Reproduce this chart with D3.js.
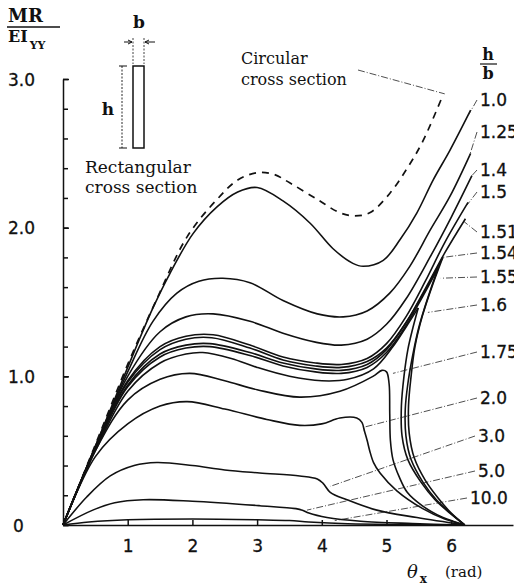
<!DOCTYPE html>
<html>
<head>
<meta charset="utf-8">
<script src="https://cdn.jsdelivr.net/npm/d3@7"></script>
<style>
  body { margin: 0; background: #fff; }
  svg { display: block; }
  .num { font-family: "DejaVu Sans", sans-serif; font-size: 17px; fill: #111; stroke: #111; stroke-width: 0.3px; }
  .ser { font-family: "DejaVu Serif", serif; fill: #111; }
</style>
</head>
<body>
<script>
'use strict';

// tick values / labels
const xTicks = [1, 2, 3, 4, 5, 6];
const yTicks = [0, 1, 2, 3];
const yTickLabels = ["0", "1.0", "2.0", "3.0"];

// h/b ratio labels, top to bottom
const ratioLabels = ["1.0", "1.25", "1.4", "1.5", "1.51", "1.54", "1.55", "1.6", "1.75", "2.0", "3.0", "5.0", "10.0"];

// curves [theta, MR/EI]
const circular = [[0,0],[0.5,0.54],[1.0,1.08],[1.45,1.52],[1.92,1.94],[2.38,2.19],[2.7,2.32],[3.0,2.37],[3.25,2.36],[3.51,2.30],[3.93,2.19],[4.28,2.10],[4.5,2.08],[4.74,2.10],[5.05,2.23],[5.32,2.40],[5.56,2.58],[5.87,2.89]];
const hb100 = [[0,0],[0.5,0.53],[1.0,1.06],[1.39,1.46],[1.65,1.69],[2.01,1.96],[2.38,2.14],[2.7,2.24],[3.0,2.27],[3.40,2.18],[3.82,2.03],[4.17,1.86],[4.48,1.76],[4.64,1.74],[4.95,1.78],[5.21,1.92],[5.47,2.10],[5.72,2.32],[5.98,2.52],[6.3,2.79]];
const hb125 = [[0,0],[0.5,0.53],[1.0,1.03],[1.39,1.37],[1.76,1.56],[2.1,1.64],[2.47,1.66],[2.89,1.63],[3.40,1.51],[3.93,1.42],[4.33,1.40],[4.70,1.44],[5.05,1.56],[5.36,1.74],[5.67,1.98],[5.98,2.21],[6.3,2.5]];
const hb140 = [[0,0],[0.5,0.52],[1.0,1.0],[1.5,1.30],[1.9,1.40],[2.32,1.42],[2.89,1.37],[3.4,1.29],[3.9,1.23],[4.3,1.21],[4.7,1.25],[5.0,1.35],[5.3,1.52],[5.67,1.80],[6.0,2.07],[6.32,2.35]];
const hb150 = [[0,0],[0.5,0.52],[1.0,0.97],[1.5,1.20],[1.9,1.27],[2.32,1.28],[2.89,1.21],[3.4,1.13],[3.9,1.09],[4.3,1.08],[4.7,1.12],[5.0,1.22],[5.3,1.40],[5.6,1.64],[5.9,1.90],[6.26,2.17]];
const hb151 = [[0,0],[0.5,0.52],[1.0,0.96],[1.5,1.18],[1.9,1.25],[2.3,1.26],[2.89,1.19],[3.4,1.11],[3.9,1.07],[4.3,1.06],[4.7,1.10],[5.0,1.19],[5.3,1.36],[5.6,1.59],[5.9,1.83],[6.22,2.06]];
const hb154 = [[0,0],[0.5,0.51],[1.0,0.94],[1.5,1.15],[1.9,1.21],[2.27,1.22],[2.89,1.16],[3.4,1.09],[3.9,1.05],[4.3,1.04],[4.7,1.08],[5.0,1.18],[5.3,1.36],[5.6,1.58],[5.87,1.80]];
const hb154back = [[5.87,1.80],[5.70,1.60],[5.55,1.40],[5.44,1.20],[5.38,1.00],[5.34,0.80],[5.35,0.62],[5.43,0.45],[5.6,0.30],[5.8,0.18],[6.0,0.08],[6.21,0]];
const hb155 = [[0,0],[0.5,0.51],[1.0,0.93],[1.5,1.13],[1.9,1.19],[2.27,1.20],[2.89,1.14],[3.4,1.07],[3.9,1.03],[4.3,1.02],[4.7,1.06],[5.0,1.16],[5.3,1.34],[5.55,1.53],[5.80,1.73]];
const hb155back = [[5.80,1.73],[5.64,1.53],[5.50,1.33],[5.40,1.13],[5.33,0.95],[5.29,0.78],[5.30,0.60],[5.38,0.44],[5.56,0.29],[5.77,0.17],[5.99,0.08],[6.21,0]];
const hb160 = [[0,0],[0.5,0.50],[1.0,0.90],[1.5,1.09],[1.9,1.15],[2.16,1.16],[2.6,1.12],[3.0,1.06],[3.5,1.00],[4.0,0.97],[4.4,0.98],[4.8,1.05],[5.1,1.20],[5.3,1.33],[5.49,1.46]];
const hb160back = [[5.49,1.46],[5.41,1.33],[5.33,1.18],[5.27,1.00],[5.23,0.80],[5.24,0.60],[5.33,0.44],[5.53,0.29],[5.75,0.17],[5.98,0.08],[6.21,0]];
const hb175 = [[0,0],[0.5,0.50],[1.0,0.84],[1.5,0.98],[1.96,1.02],[2.5,0.97],[3.0,0.91],[3.66,0.86],[4.28,0.90],[4.79,1.00],[4.93,1.04],[5.0,1.03],[5.04,0.95],[5.05,0.75],[5.06,0.57],[5.10,0.44],[5.2,0.32],[5.32,0.22],[5.55,0.13],[5.78,0.07],[6.0,0.03],[6.21,0]];
const hb200 = [[0,0],[0.5,0.46],[1.0,0.68],[1.5,0.80],[1.92,0.83],[2.5,0.78],[3.15,0.71],[3.66,0.67],[4.0,0.68],[4.28,0.72],[4.54,0.72],[4.62,0.69],[4.66,0.63],[4.70,0.57],[4.74,0.50],[4.80,0.42],[4.90,0.35],[5.16,0.23],[5.56,0.11],[5.9,0.04],[6.21,0]];
const hb300 = [[0,0],[0.37,0.19],[0.73,0.33],[1.1,0.40],[1.45,0.42],[2.0,0.40],[2.5,0.37],[3.04,0.35],[3.66,0.33],[3.93,0.31],[4.02,0.28],[4.13,0.22],[4.39,0.17],[4.85,0.10],[5.47,0.05],[6.21,0]];
const hb500 = [[0,0],[0.46,0.10],[0.8,0.15],[1.24,0.17],[2.0,0.16],[3.04,0.13],[3.6,0.11],[3.70,0.10],[3.8,0.08],[4.08,0.05],[4.6,0.025],[5.4,0.01],[6.21,0]];
const hb1000 = [[0,0],[0.4,0.02],[1.0,0.035],[2.0,0.04],[3.0,0.035],[3.5,0.03],[3.8,0.02],[4.4,0.008],[6.21,0]];

// where each label's leader line meets its curve
const leaderTargets = [[6.27,2.76],[6.28,2.48],[6.32,2.35],[6.24,2.15],[6.2,2.04],[5.87,1.80],[5.84,1.66],[5.64,1.43],[5.10,1.02],[4.67,0.66],[4.13,0.26],[3.77,0.10],[4.2,0.03]];
const circularTarget = [5.9, 2.9];

// layout of the ratio labels (pixels)
const labelX = [480, 480, 480, 480, 480, 480, 480, 480, 480, 480, 478, 478, 470];
const labelY = [100, 132, 170, 192, 232, 253, 277, 305, 352, 398, 436, 471, 498];

const width = 514, height = 587;

const svg = d3.select('body').append('svg')
  .attr('width', width)
  .attr('height', height);

svg.append('rect').attr('width', width).attr('height', height).attr('fill', '#fff');

const x = d3.scaleLinear().domain([0, 6.955]).range([63, 513]);
const y = d3.scaleLinear().domain([0, 3]).range([525, 79]);

// axes
const xAxis = d3.axisBottom(x).tickValues(xTicks).tickFormat(d3.format('d'))
  .tickSizeInner(-5).tickSizeOuter(0).tickPadding(15);
const gx = svg.append('g').attr('transform', `translate(0,${y(0)})`).call(xAxis);
gx.selectAll('text').attr('class', 'num').attr('font-size', null).attr('font-family', null);

const yMinor = d3.axisLeft(y).tickValues(d3.range(0, 3.01, 0.2)).tickFormat('')
  .tickSizeInner(-5).tickSizeOuter(0);
svg.append('g').attr('transform', `translate(${x(0)},0)`).call(yMinor)
  .call(g => g.select('.domain').remove());

const yAxis = d3.axisLeft(y).tickValues(yTicks).tickFormat((d, i) => yTickLabels[i])
  .tickSizeInner(-6).tickSizeOuter(0);
const gy = svg.append('g').attr('transform', `translate(${x(0)},0)`).call(yAxis);
gy.selectAll('text').attr('class', 'num').attr('font-size', null).attr('font-family', null)
  .attr('text-anchor', 'start')
  .attr('x', d => d === 0 ? -50 : -55)
  .attr('dy', '0.36em');

svg.selectAll('.domain, .tick line').attr('stroke', '#111').attr('stroke-width', 1.5);

// curves
const line = d3.line().x(d => x(d[0])).y(d => y(d[1])).curve(d3.curveCatmullRom.alpha(0.5));

const solids = [hb100, hb125, hb140, hb150, hb151, hb154, hb154back, hb155, hb155back,
  hb160, hb160back, hb175, hb200, hb300, hb500, hb1000];

svg.append('g').selectAll('path').data(solids).enter().append('path')
  .attr('d', line)
  .attr('fill', 'none')
  .attr('stroke', '#111')
  .attr('stroke-width', 1.6)
  .attr('stroke-linejoin', 'round');

svg.append('path')
  .datum(circular)
  .attr('d', line)
  .attr('fill', 'none')
  .attr('stroke', '#111')
  .attr('stroke-width', 1.7)
  .attr('stroke-dasharray', '7,6');

// ratio labels with leader lines
const leaders = svg.append('g');
ratioLabels.forEach((lab, i) => {
  const t = leaderTargets[i];
  leaders.append('line')
    .attr('x1', labelX[i] - 3).attr('y1', labelY[i])
    .attr('x2', x(t[0])).attr('y2', y(t[1]))
    .attr('stroke', '#222').attr('stroke-width', 0.8)
    .attr('stroke-dasharray', '7,2,1,2');
  svg.append('text').attr('class', 'num')
    .attr('x', labelX[i]).attr('y', labelY[i]).attr('dy', '0.36em')
    .text(lab);
});

// h/b header
svg.append('text').attr('class', 'ser').attr('x', 488).attr('y', 60)
  .attr('text-anchor', 'middle').attr('font-size', 16).attr('font-weight', 'bold').text('h');
svg.append('line').attr('x1', 480).attr('x2', 497).attr('y1', 64).attr('y2', 64)
  .attr('stroke', '#111').attr('stroke-width', 1.2);
svg.append('text').attr('class', 'ser').attr('x', 488).attr('y', 79)
  .attr('text-anchor', 'middle').attr('font-size', 16).attr('font-weight', 'bold').text('b');

// circular cross section annotation
svg.append('text').attr('class', 'ser').attr('x', 241).attr('y', 64).attr('font-size', 16).text('Circular');
svg.append('text').attr('class', 'ser').attr('x', 241).attr('y', 85).attr('font-size', 16).text('cross section');
svg.append('line')
  .attr('x1', 358).attr('y1', 70)
  .attr('x2', x(circularTarget[0])).attr('y2', y(circularTarget[1]))
  .attr('stroke', '#222').attr('stroke-width', 0.8).attr('stroke-dasharray', '7,2,1,2');

// rectangular cross section annotation + inset
svg.append('text').attr('class', 'ser').attr('x', 85).attr('y', 173).attr('font-size', 17).text('Rectangular');
svg.append('text').attr('class', 'ser').attr('x', 85).attr('y', 193).attr('font-size', 17).text('cross section');

const inset = svg.append('g').attr('stroke', '#111').attr('fill', 'none');
inset.append('rect').attr('x', 133).attr('y', 66).attr('width', 11).attr('height', 82).attr('stroke-width', 1.5);
inset.append('line').attr('x1', 122).attr('x2', 122).attr('y1', 66).attr('y2', 148)
  .attr('stroke-width', 0.9).attr('stroke-dasharray', '2,1.5');
inset.append('line').attr('x1', 119).attr('x2', 127).attr('y1', 66).attr('y2', 66).attr('stroke-width', 1);
inset.append('line').attr('x1', 119).attr('x2', 127).attr('y1', 148).attr('y2', 148).attr('stroke-width', 1);
inset.append('line').attr('x1', 133).attr('x2', 133).attr('y1', 38).attr('y2', 64)
  .attr('stroke-width', 0.8).attr('stroke-dasharray', '2,1.5');
inset.append('line').attr('x1', 144).attr('x2', 144).attr('y1', 38).attr('y2', 64)
  .attr('stroke-width', 0.8).attr('stroke-dasharray', '2,1.5');
inset.append('line').attr('x1', 124).attr('x2', 132).attr('y1', 42).attr('y2', 42).attr('stroke-width', 1);
inset.append('line').attr('x1', 145).attr('x2', 155).attr('y1', 42).attr('y2', 42).attr('stroke-width', 1);
inset.append('path').attr('d', 'M128,40 L132,42 L128,44').attr('stroke-width', 1);
inset.append('path').attr('d', 'M149,40 L145,42 L149,44').attr('stroke-width', 1);
svg.append('text').attr('class', 'ser').attr('x', 108).attr('y', 115)
  .attr('text-anchor', 'middle').attr('font-size', 17).attr('font-weight', 'bold').text('h');
svg.append('text').attr('class', 'ser').attr('x', 139).attr('y', 28)
  .attr('text-anchor', 'middle').attr('font-size', 17).attr('font-weight', 'bold').text('b');

// y axis title MR / EI_YY
svg.append('text').attr('class', 'ser').attr('x', 8).attr('y', 22)
  .attr('font-size', 18).attr('font-weight', 'bold').text('MR');
svg.append('line').attr('x1', 7).attr('x2', 60).attr('y1', 27).attr('y2', 27)
  .attr('stroke', '#111').attr('stroke-width', 1.4);
const ei = svg.append('text').attr('class', 'ser').attr('x', 8).attr('y', 42)
  .attr('font-size', 16).attr('font-weight', 'bold');
ei.append('tspan').text('EI');
ei.append('tspan').attr('font-size', 11).attr('dx', 2).attr('dy', 7).text('YY');

// x axis title
const xt = svg.append('text').attr('class', 'ser').attr('x', 407).attr('y', 578).attr('font-size', 18);
xt.append('tspan').attr('font-style', 'italic').text('θ');
xt.append('tspan').attr('font-size', 12).attr('dx', 2).attr('dy', 5).attr('font-weight', 'bold').text('x');
svg.append('text').attr('class', 'ser').attr('x', 445).attr('y', 577).attr('font-size', 15).text('(rad)');
</script>
</body>
</html>
